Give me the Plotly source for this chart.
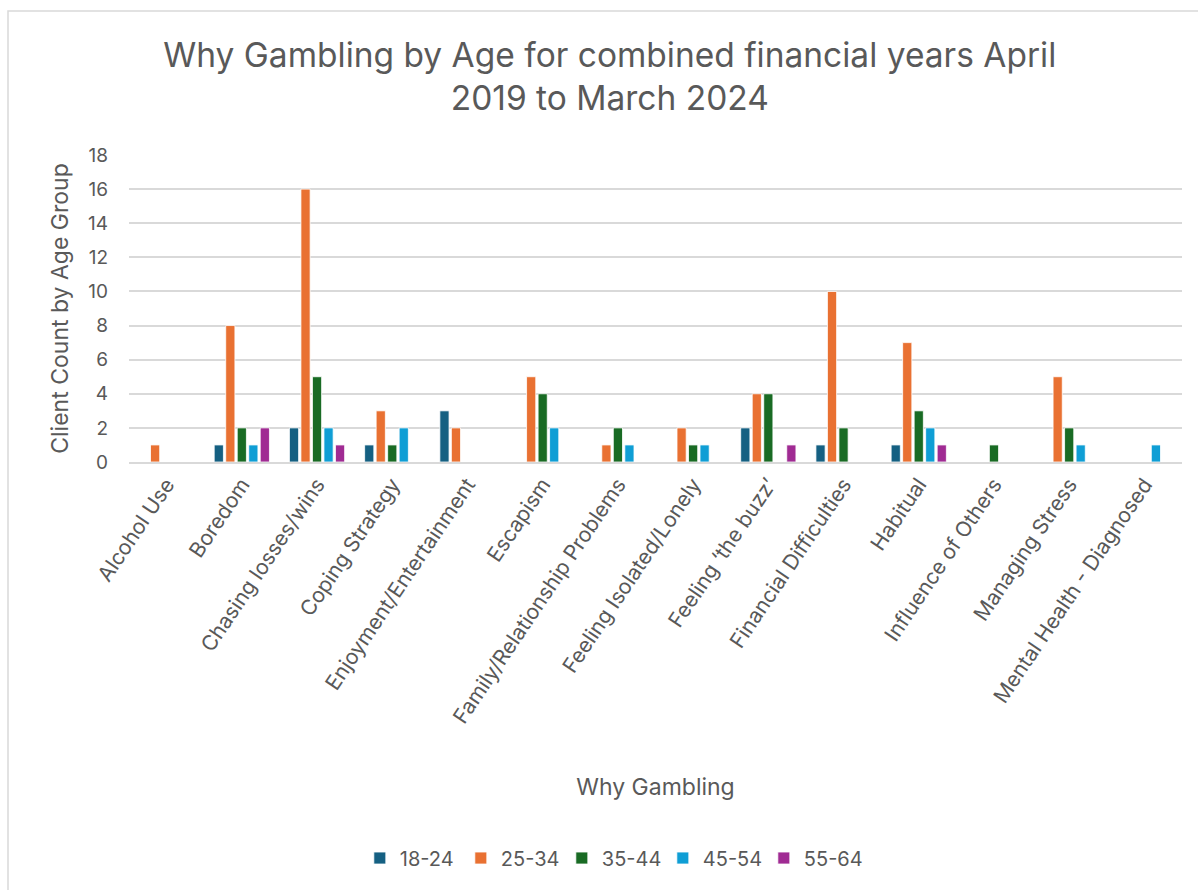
import plotly.graph_objects as go

reasons = [
    "Alcohol Use", "Boredom", "Chasing losses/wins", "Coping Strategy",
    "Enjoyment/Entertainment", "Escapism", "Family/Relationship Problems",
    "Feeling Isolated/Lonely", "Feeling \u2018the buzz\u2019", "Financial Difficulties",
    "Habitual", "Influence of Others", "Managing Stress", "Mental Health - Diagnosed",
]

age_groups = ["18-24", "25-34", "35-44", "45-54", "55-64"]

age_18_24 = [0, 1, 2, 1, 3, 0, 0, 0, 2, 1, 1, 0, 0, 0]
age_25_34 = [1, 8, 16, 3, 2, 5, 1, 2, 4, 10, 7, 0, 5, 0]
age_35_44 = [0, 2, 5, 1, 0, 4, 2, 1, 4, 2, 3, 1, 2, 0]
age_45_54 = [0, 1, 2, 2, 0, 2, 1, 1, 0, 0, 2, 0, 1, 1]
age_55_64 = [0, 2, 1, 0, 0, 0, 0, 0, 1, 0, 1, 0, 0, 0]

series = [age_18_24, age_25_34, age_35_44, age_45_54, age_55_64]
colors = ["#156082", "#E97132", "#196B24", "#0F9ED5", "#A02B93"]

y_ticks = [0, 2, 4, 6, 8, 10, 12, 14, 16, 18]

FONT = "Inter"
GREY = "#595959"

fig = go.Figure()
for name, vals, col in zip(age_groups, series, colors):
    fig.add_trace(go.Bar(
        x=reasons, y=vals, name=name,
        marker=dict(color=col, line=dict(color="white", width=0.8)),
    ))

fig.update_layout(
    width=1198, height=890,
    margin=dict(l=129, r=16, t=155, b=428),
    paper_bgcolor="white", plot_bgcolor="white",
    barmode="group", bargap=0.235, bargroupgap=0.2,
    font=dict(family=FONT, color=GREY),
    title=dict(
        text="Why Gambling by Age for combined financial years April<br>2019 to March 2024",
        x=0.509, xanchor="center", y=0.925, yanchor="middle",
        font=dict(size=33.5, color=GREY, family=FONT),
    ),
    legend=dict(
        orientation="h", x=0.459, xanchor="center", y=-1.29, yanchor="middle",
        font=dict(size=20, color=GREY), traceorder="normal",
        entrywidth=56, entrywidthmode="pixels",
    ),
    xaxis=dict(
        tickangle=-56, tickfont=dict(size=21, color=GREY),
        showline=True, linecolor="#D9D9D9", linewidth=2,
        showgrid=False, ticks="",
        title=dict(text="Why Gambling", font=dict(size=23, color=GREY), standoff=52),
    ),
    yaxis=dict(
        range=[0, 18], tickvals=y_ticks, tickfont=dict(size=19, color=GREY),
        showgrid=True, gridcolor="#D9D9D9", gridwidth=1.5, zeroline=False,
        ticks="", ticklabelstandoff=20,
        title=dict(text="Client Count by Age Group", font=dict(size=23, color=GREY), standoff=12),
    ),
    shapes=[dict(
        type="rect", xref="paper", yref="paper",
        x0=-121 / 1053, x1=1.2, y0=-2.0, y1=1 + 144 / 307,
        line=dict(color="#D9D9D9", width=1.5), fillcolor="rgba(0,0,0,0)", layer="below",
    )],
)

fig.write_html("out.html")
